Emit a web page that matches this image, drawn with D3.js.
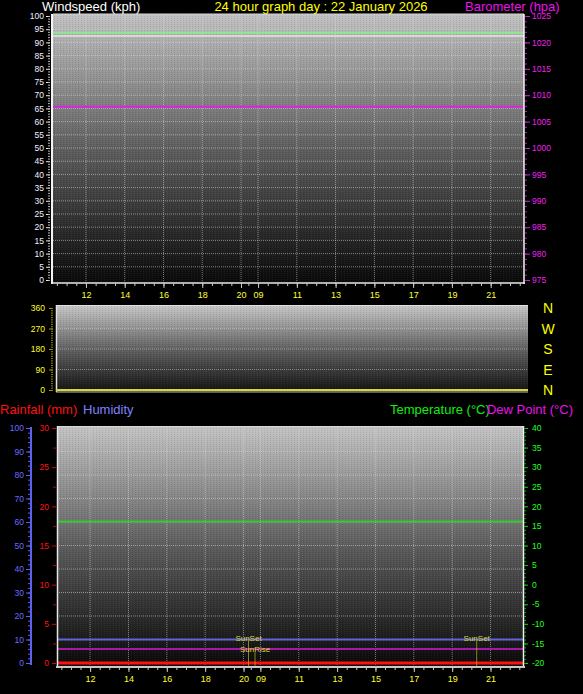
<!DOCTYPE html>
<html>
<head>
<meta charset="utf-8">
<script src="https://cdn.jsdelivr.net/npm/d3@7"></script>
<style>
  body { margin: 0; background: #000; }
  svg { display: block; font-family: "Liberation Sans", Arial, sans-serif; }
</style>
</head>
<body>
<svg id="chart" width="583" height="694"></svg>
<script>
// hours measured from the left edge of the graph (the time axis jumps at 20 -> 09)
const graphHours = 24.3
const timeLabels = ['12', '14', '16', '18', '20', '09', '11', '13', '15', '17', '19', '21']
const timeLabelHours = [1.7, 3.7, 5.7, 7.7, 9.7, 10.58, 12.58, 14.58, 16.58, 18.58, 20.58, 22.58]
const sampleHours = [0, 24.3]

// top panel
const windLabels = [0, 5, 10, 15, 20, 25, 30, 35, 40, 45, 50, 55, 60, 65, 70, 75, 80, 85, 90, 95, 100]
const baroLabels = [975, 980, 985, 990, 995, 1000, 1005, 1010, 1015, 1020, 1025]
const windGust = [93.7, 93.7]
const windSpeed = [92.4, 92.4]
const pressure = [1007.8, 1007.8]

// wind direction panel
const dirLabels = [0, 90, 180, 270, 360]
const compassLetters = ['N', 'W', 'S', 'E', 'N']
const compassDegrees = [360, 270, 180, 90, 0]
const windDir = [0, 0]

// bottom panel
const humidityLabels = [0, 10, 20, 30, 40, 50, 60, 70, 80, 90, 100]
const rainLabels = [0, 5, 10, 15, 20, 25, 30]
const tempLabels = [-20, -15, -10, -5, 0, 5, 10, 15, 20, 25, 30, 35, 40]
const temperature = [16.1, 16.1]
const dewPoint = [-16.4, -16.4]
const humidity = [10, 10]
const rainfall = [0, 0]
const sunEvents = ['SunSet', 'SunRise', 'SunSet']
const sunEventHours = [9.96, 10.3, 21.86]

const plain = d => String(d)

const svg = d3.select('#chart')
svg.append('rect').attr('width', 583).attr('height', 694).attr('fill', '#000')
const defs = svg.append('defs')

function gradient (id, top, mid, bottom) {
  const g = defs.append('linearGradient').attr('id', id).attr('x1', 0).attr('y1', 0).attr('x2', 0).attr('y2', 1)
  g.append('stop').attr('offset', '0%').attr('stop-color', top)
  g.append('stop').attr('offset', '50%').attr('stop-color', mid)
  g.append('stop').attr('offset', '100%').attr('stop-color', bottom)
}
gradient('gTop', '#c2c2c2', '#5e5e5e', '#090909')
gradient('gMid', '#c8c8c8', '#626262', '#111111')
gradient('gBot', '#c4c4c4', '#5c5c5c', '#070707')

// faint dither texture like the original bitmap
const pat = defs.append('pattern').attr('id', 'dither').attr('width', 3).attr('height', 2).attr('patternUnits', 'userSpaceOnUse')
pat.append('rect').attr('width', 1).attr('height', 1).attr('fill', '#000').attr('opacity', 0.1)
pat.append('rect').attr('x', 2).attr('y', 1).attr('width', 1).attr('height', 1).attr('fill', '#fff').attr('opacity', 0.05)

function plotArea (x0, x1, y0, y1, grad) {
  svg.append('rect').attr('x', x0).attr('y', y0).attr('width', x1 - x0).attr('height', y1 - y0).attr('fill', 'url(#' + grad + ')')
  svg.append('rect').attr('x', x0).attr('y', y0).attr('width', x1 - x0).attr('height', y1 - y0).attr('fill', 'url(#dither)')
}

function styleAxis (g, tickColor, textColor, size) {
  g.select('.domain').remove()
  g.selectAll('.tick line').attr('stroke', tickColor)
  g.selectAll('.tick text').attr('fill', textColor).attr('font-size', size || '8.5px').attr('font-family', '"Liberation Sans", Arial, sans-serif')
}

function hLine (x0, x1, y, color, w) {
  svg.append('line').attr('x1', x0).attr('x2', x1).attr('y1', y).attr('y2', y)
    .attr('stroke', color).attr('stroke-width', w || 1)
}
function vLine (x, y0, y1, color, w) {
  svg.append('line').attr('x1', x).attr('x2', x).attr('y1', y0).attr('y2', y1)
    .attr('stroke', color).attr('stroke-width', w || 1)
}

function series (xs, ys, values, color, width) {
  const line = d3.line().x((d, i) => xs(sampleHours[i])).y(d => ys(d))
  svg.append('path').datum(values).attr('d', line).attr('fill', 'none')
    .attr('stroke', color).attr('stroke-width', width)
}

function timeAxis (xs, y, tickColor) {
  const g = svg.append('g').attr('transform', 'translate(0,' + y + ')')
    .call(d3.axisBottom(xs).tickValues(timeLabelHours).tickFormat((d, i) => timeLabels[i]).tickSize(5).tickPadding(4))
  styleAxis(g, tickColor, '#ffff30', '9px')
  const minor = d3.range(0.2, 9.75, 0.5).concat(d3.range(10.08, graphHours, 0.5))
  const m = svg.append('g').attr('transform', 'translate(0,' + y + ')')
    .call(d3.axisBottom(xs).tickValues(minor).tickFormat('').tickSize(3))
  styleAxis(m, tickColor, '#fff')
}

function title (x, y, text, color, anchor, size) {
  svg.append('text').attr('x', x).attr('y', y).attr('fill', color)
    .attr('font-size', size || '13px').attr('text-anchor', anchor || 'start').text(text)
}

// ---------------- top panel: windspeed / barometer ----------------
const xTop = d3.scaleLinear().domain([0, graphHours]).range([53, 524])
const yWind = d3.scaleLinear().domain([0, 100]).range([280, 16])
const yBaro = d3.scaleLinear().domain([975, 1025]).range([280, 16])

plotArea(53, 524, 14, 283, 'gTop')

svg.append('g').selectAll('line').data(windLabels.slice(1, -1)).join('line')
  .attr('x1', 53).attr('x2', 524).attr('y1', d => yWind(d)).attr('y2', d => yWind(d))
  .attr('stroke', '#d8d8d8').attr('stroke-opacity', 0.55).attr('stroke-dasharray', '1,1')
svg.append('g').selectAll('line').data(timeLabelHours).join('line')
  .attr('x1', d => xTop(d)).attr('x2', d => xTop(d)).attr('y1', 14).attr('y2', 283)
  .attr('stroke', '#d8d8d8').attr('stroke-opacity', 0.55).attr('stroke-dasharray', '1,1')

series(xTop, yWind, windSpeed, '#e4e4e4', 1.5)
series(xTop, yWind, windGust, '#8ee88e', 2)
series(xTop, yBaro, pressure, '#e020e0', 2)

hLine(53, 524, 14, '#d8d8d8', 1)
vLine(52, 14, 284, '#f4f4f4', 2)
vLine(524, 14, 284, '#f4f4f4', 1.5)
hLine(51, 525, 283, '#e8e8e8', 1.5)

let g = svg.append('g').attr('transform', 'translate(50,0)')
  .call(d3.axisLeft(yWind).tickValues(windLabels).tickFormat(plain).tickSize(4).tickPadding(2))
styleAxis(g, '#e8e8e8', '#f0f0ff')
g = svg.append('g').attr('transform', 'translate(50,0)')
  .call(d3.axisLeft(yWind).tickValues(d3.range(0, 101, 1)).tickFormat('').tickSize(2))
styleAxis(g, '#bbbbbb', '#fff')

g = svg.append('g').attr('transform', 'translate(525,0)')
  .call(d3.axisRight(yBaro).tickValues(baroLabels).tickFormat(plain).tickSize(5).tickPadding(2))
styleAxis(g, '#d020d0', '#ee22ee')
g = svg.append('g').attr('transform', 'translate(525,0)')
  .call(d3.axisRight(yBaro).tickValues(d3.range(975, 1026, 1)).tickFormat('').tickSize(2))
styleAxis(g, '#b020b0', '#fff')

timeAxis(xTop, 283, '#c8c8c8')

title(42, 11, 'Windspeed (kph)', '#ffffff')
title(321, 11, '24 hour graph day : 22 January 2026', '#ffff00', 'middle')
title(465, 11, 'Barometer (hpa)', '#ee11ee')

// ---------------- middle panel: wind direction ----------------
const xMid = d3.scaleLinear().domain([0, graphHours]).range([56, 528])
const yDir = d3.scaleLinear().domain([0, 360]).range([390, 308])

plotArea(56, 528, 305, 392, 'gMid')
svg.append('g').selectAll('line').data(dirLabels.slice(1, -1)).join('line')
  .attr('x1', 56).attr('x2', 528).attr('y1', d => yDir(d)).attr('y2', d => yDir(d))
  .attr('stroke', '#d8d8d8').attr('stroke-opacity', 0.5).attr('stroke-dasharray', '1,1')
hLine(56, 528, 305.5, '#e0e0e0', 1)
vLine(56.5, 305, 392, '#e4e4e4', 1.5)
hLine(56, 528, 392, '#bdbdbd', 1)
series(xMid, yDir, windDir, '#d8d830', 2)

g = svg.append('g').attr('transform', 'translate(53,0)')
  .call(d3.axisLeft(yDir).tickValues(dirLabels).tickFormat(plain).tickSize(4).tickPadding(4))
styleAxis(g, '#a0a000', '#ffff20')
g = svg.append('g').attr('transform', 'translate(53,0)')
  .call(d3.axisLeft(yDir).tickValues(d3.range(0, 361, 10)).tickFormat('').tickSize(2))
styleAxis(g, '#8a8a00', '#fff')

svg.append('g').selectAll('text').data(compassDegrees).join('text')
  .attr('x', 548).attr('y', d => yDir(d) + 5)
  .attr('text-anchor', 'middle').attr('fill', '#ffff00').attr('font-size', '14px')
  .text((d, i) => compassLetters[i])

// ---------------- bottom panel: rain / humidity / temperature ----------------
const xBot = d3.scaleLinear().domain([0, graphHours]).range([57.5, 523.5])
const yHum = d3.scaleLinear().domain([0, 100]).range([663, 428])
const yRain = d3.scaleLinear().domain([0, 30]).range([663, 428])
const yTemp = d3.scaleLinear().domain([-20, 40]).range([663, 428])

plotArea(57, 524, 426, 667, 'gBot')
svg.append('g').selectAll('line').data(humidityLabels.slice(1, -1)).join('line')
  .attr('x1', 57).attr('x2', 524).attr('y1', d => yHum(d)).attr('y2', d => yHum(d))
  .attr('stroke', '#d8d8d8').attr('stroke-opacity', 0.55).attr('stroke-dasharray', '1,1')
svg.append('g').selectAll('line').data(timeLabelHours).join('line')
  .attr('x1', d => xBot(d)).attr('x2', d => xBot(d)).attr('y1', 426).attr('y2', 667)
  .attr('stroke', '#d8d8d8').attr('stroke-opacity', 0.55).attr('stroke-dasharray', '1,1')

series(xBot, yTemp, temperature, '#33cc33', 2)
series(xBot, yHum, humidity, '#6464d8', 2)
series(xBot, yTemp, dewPoint, '#a818a8', 2)
series(xBot, yRain, rainfall, '#ff1010', 3)

// sunrise / sunset markers
const sun = svg.append('g').selectAll('g').data(sunEventHours).join('g')
sun.append('line')
  .attr('x1', d => xBot(d)).attr('x2', d => xBot(d))
  .attr('y1', (d, i) => sunEvents[i] === 'SunRise' ? 652 : 641).attr('y2', 667)
  .attr('stroke', '#b0b020').attr('stroke-opacity', 0.75).attr('stroke-width', 1)
sun.append('text')
  .attr('x', d => xBot(d)).attr('y', (d, i) => sunEvents[i] === 'SunRise' ? 652 : 641)
  .attr('text-anchor', 'middle').attr('fill', '#d8d830').attr('font-size', '8px')
  .text((d, i) => sunEvents[i])

hLine(57, 524, 426.5, '#d8d8d8', 1)
vLine(57.5, 426, 668, '#e8e8e8', 1.5)
vLine(523.5, 426, 668, '#f0f0f0', 1.5)
hLine(56, 525, 667, '#c8c8c8', 2)

// humidity axis
vLine(31, 427, 665, '#6060f0', 2)
g = svg.append('g').attr('transform', 'translate(30,0)')
  .call(d3.axisLeft(yHum).tickValues(humidityLabels).tickFormat(plain).tickSize(4).tickPadding(2))
styleAxis(g, '#6060f0', '#6a6aff')
g = svg.append('g').attr('transform', 'translate(30,0)')
  .call(d3.axisLeft(yHum).tickValues(d3.range(0, 101, 2)).tickFormat('').tickSize(2))
styleAxis(g, '#6060f0', '#fff')

// rain axis
g = svg.append('g').attr('transform', 'translate(56,0)')
  .call(d3.axisLeft(yRain).tickValues(rainLabels).tickFormat(plain).tickSize(4).tickPadding(3))
styleAxis(g, '#e00000', '#ff1010')
g = svg.append('g').attr('transform', 'translate(56,0)')
  .call(d3.axisLeft(yRain).tickValues(d3.range(2.5, 30, 5)).tickFormat('').tickSize(3))
styleAxis(g, '#c00000', '#fff')

// temperature axis
g = svg.append('g').attr('transform', 'translate(524,0)')
  .call(d3.axisRight(yTemp).tickValues(tempLabels).tickFormat(plain).tickSize(4).tickPadding(4))
styleAxis(g, '#10d010', '#20ff20')
g = svg.append('g').attr('transform', 'translate(524,0)')
  .call(d3.axisRight(yTemp).tickValues(d3.range(-20, 41, 1)).tickFormat('').tickSize(2))
styleAxis(g, '#10b010', '#fff')

timeAxis(xBot, 667, '#c8c8c8')

title(0, 413.5, 'Rainfall (mm)', '#ff1010')
title(83, 413.5, 'Humidity', '#8080ff')
title(390, 413.5, 'Temperature (°C)', '#10ee10')
title(573, 413.5, 'Dew Point (°C)', '#ee10ee', 'end')
</script>
</body>
</html>
